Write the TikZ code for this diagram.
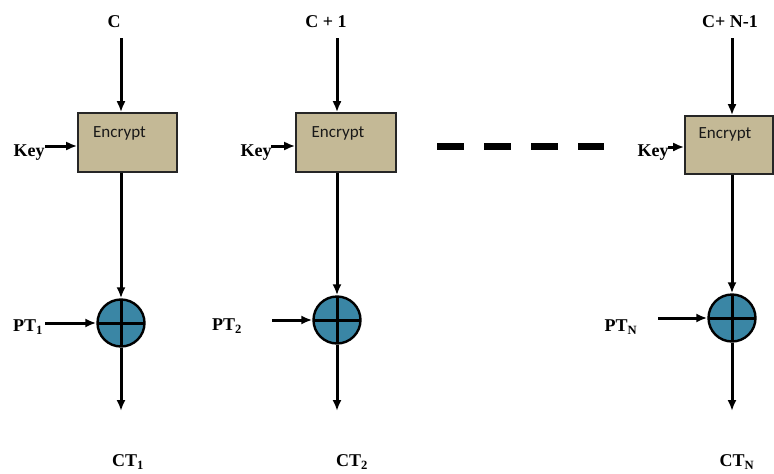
\documentclass[tikz,border=0pt]{standalone}
\usepackage{fontspec}
\setmainfont{Liberation Serif}
\newfontfamily\encfont{Carlito}
\usetikzlibrary{arrows.meta}
\definecolor{boxtan}{RGB}{196,185,150}
\definecolor{xorblue}{RGB}{58,134,165}
\begin{document}
\begin{tikzpicture}[x=1pt,y=-1pt,
  lbl/.style={font=\fontsize{18}{18}\selectfont\bfseries, inner sep=0pt},
  enctext/.style={font=\encfont\fontsize{17}{17}\selectfont, text=black!90, inner sep=0pt},
  encbox/.style={draw=black!85, line width=1.6pt, fill=boxtan, inner sep=0pt},
  conn/.style={line width=3pt, -{Latex[length=11pt,width=9pt]}},
  xorc/.style={circle, draw=black, line width=2.4pt, fill=xorblue, minimum size=47pt, inner sep=0pt,
    path picture={\draw[line width=3pt] (path picture bounding box.north) -- (path picture bounding box.south)
      (path picture bounding box.west) -- (path picture bounding box.east);}},
  dashbar/.style={line width=7pt, dash pattern=on 27pt off 20pt}
]
\useasboundingbox (0,0) rectangle (774,474);

% encrypt boxes
\node[encbox, minimum width=99pt, minimum height=59pt] (e1) at (127.5,142.5) {};
\node[encbox, minimum width=100pt, minimum height=59pt] (e2) at (346,142.5) {};
\node[encbox, minimum width=88pt, minimum height=58pt] (e3) at (729,145) {};
\node[enctext] (t1) at (119.5,133) {Encrypt};
\node[enctext] (t2) at (338,133) {Encrypt};
\node[enctext] (t3) at (725,134) {Encrypt};

% counter labels
\node[lbl] (c1) at (114,22) {C};
\node[lbl] (c2) at (326,22) {C + 1};
\node[lbl] (c3) at (730,22) {C+ N-1};

% key labels
\node[lbl] (k1) at (29,153) {Key};
\node[lbl] (k2) at (256,153) {Key};
\node[lbl] (k3) at (653,153) {Key};

% xor circles
\node[xorc] (x1) at (121,323) {};
\node[xorc] (x2) at (337,320) {};
\node[xorc] (x3) at (732,318) {};

% plaintext labels
\node[lbl] (p1) at (28,327) {PT\textsubscript{1}};
\node[lbl] (p2) at (227,326) {PT\textsubscript{2}};
\node[lbl] (p3) at (621,327) {PT\textsubscript{N}};

% ciphertext labels
\node[lbl] (o1) at (128,462) {CT\textsubscript{1}};
\node[lbl] (o2) at (352,462) {CT\textsubscript{2}};
\node[lbl] (o3) at (737,462) {CT\textsubscript{N}};

% coordinates
\coordinate (a1) at (121,38);
\coordinate (a2) at (337,38);
\coordinate (a3) at (732,38);
\coordinate (b1) at (121,411);
\coordinate (b2) at (337,411);
\coordinate (b3) at (732,411);
\coordinate (ka1) at (45,146);
\coordinate (ka2) at (271,146);
\coordinate (ka3) at (668,147);
\coordinate (pa1) at (45,323);
\coordinate (pa2) at (272,320);
\coordinate (pa3) at (658,318);

% connectors
\foreach \i in {1,2,3}{
  \draw[conn] (a\i) -- (a\i |- e\i.north);
  \draw[conn] (a\i |- e\i.south) -- (x\i.north);
  \draw[conn] (x\i.south) -- (b\i);
  \draw[conn] (ka\i) -- (ka\i -| e\i.west);
  \draw[conn] (pa\i) -- (x\i.west);
}

% ellipsis dashes
\draw[dashbar] (437,146) -- (604,146);
\end{tikzpicture}
\end{document}
